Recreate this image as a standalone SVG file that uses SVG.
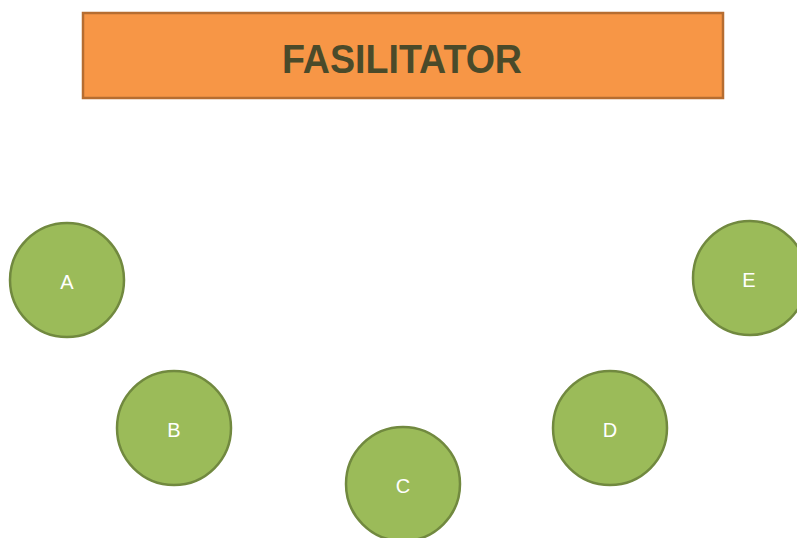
<svg xmlns="http://www.w3.org/2000/svg" width="797" height="538" viewBox="0 0 797 538">
<style>
.node circle{fill:#9BBB59;stroke:#71893F;stroke-width:2.5}
.node text{fill:#FFFFFF;font-family:"Liberation Sans",Arial,sans-serif;font-size:20px;text-anchor:middle}
#fasilitator rect{fill:#F79646;stroke:#B66D31;stroke-width:2.5}
#fasilitator text{fill:#4A4A2A;font-family:"Liberation Sans",Arial,sans-serif;font-weight:bold;font-size:40px;text-anchor:middle}
</style>
<rect width="797" height="538" fill="#FFFFFF"/>
<g id="fasilitator"><rect x="83" y="13" width="640" height="85"/><text x="402" y="73" textLength="240" lengthAdjust="spacingAndGlyphs">FASILITATOR</text></g>
<g id="connectors"></g>
<g id="A" class="node"><circle cx="67" cy="280" r="57"/><text x="67" y="289">A</text></g>
<g id="B" class="node"><circle cx="174" cy="428" r="57"/><text x="174" y="437">B</text></g>
<g id="C" class="node"><circle cx="403" cy="484" r="57"/><text x="403" y="493">C</text></g>
<g id="D" class="node"><circle cx="610" cy="428" r="57"/><text x="610" y="437">D</text></g>
<g id="E" class="node"><circle cx="750" cy="278" r="57"/><text x="749" y="287">E</text></g>
</svg>
